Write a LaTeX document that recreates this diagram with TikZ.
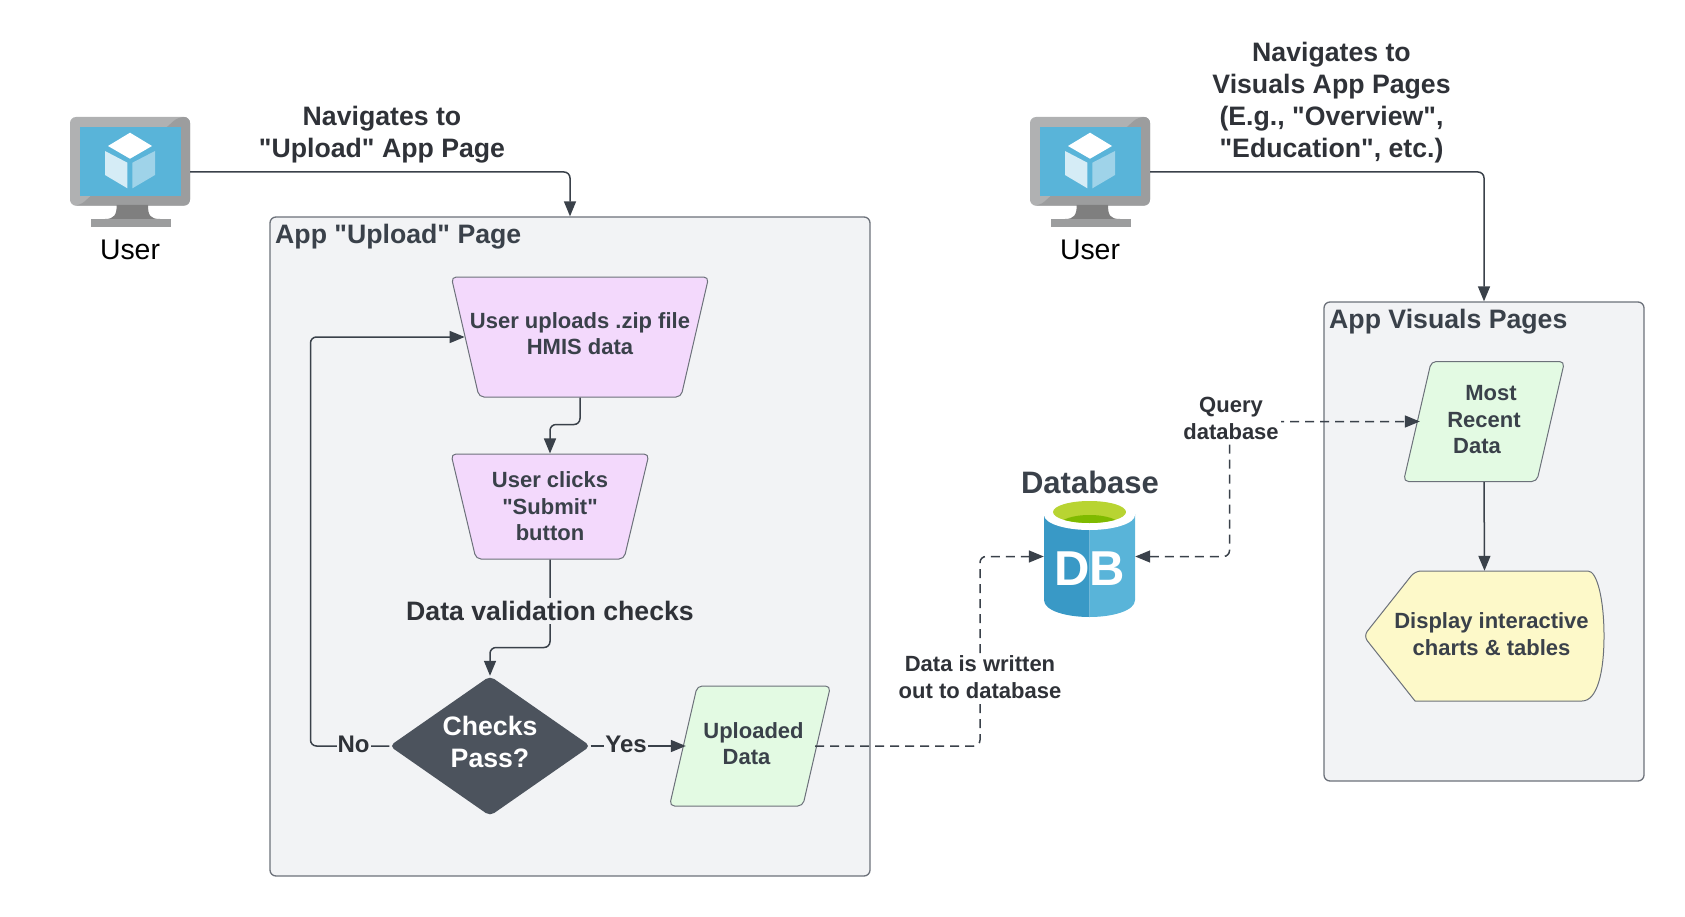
\documentclass[tikz,border=0pt]{standalone}
\usepackage{fontspec}
\setmainfont[Ligatures=TeXOff]{Liberation Sans}
\usetikzlibrary{shapes,shapes.geometric}
\usetikzlibrary{arrows.meta}
\usetikzlibrary{positioning}
\definecolor{inkgrey}{HTML}{3A414A}
\definecolor{darktext}{HTML}{2F3238}
\definecolor{panelgrey}{HTML}{F2F3F5}
\definecolor{panelline}{HTML}{6C717A}
\definecolor{purplebox}{HTML}{F3D9FC}
\definecolor{greenbox}{HTML}{E3FAE3}
\definecolor{yellowbox}{HTML}{FDF9C9}
\definecolor{darkbox}{HTML}{4C535D}
\definecolor{azure}{HTML}{59B4D9}
\definecolor{azuredark}{HTML}{3999C6}
\definecolor{limerim}{HTML}{B8D432}
\definecolor{limedeep}{HTML}{7FBA00}
\definecolor{monitorlight}{HTML}{B0B1B2}
\definecolor{monitordark}{HTML}{9C9D9E}
\definecolor{monitorstand}{HTML}{7F7F7F}
\begin{document}
\begin{tikzpicture}[x=1pt,y=-1pt]
\tikzset{
  panel/.style={rectangle,draw=panelline,fill=panelgrey,line width=1.3pt,rounded corners=6pt,inner sep=0pt},
  paneltitle/.style={anchor=west,inner sep=0pt,text=inkgrey,font=\bfseries\fontsize{26.67}{32}\selectfont},
  heading/.style={inner sep=0pt,align=center,text=darktext,font=\bfseries\fontsize{26.67}{32}\selectfont},
  smalltext/.style={inner sep=2pt,align=center,text=inkgrey,font=\bfseries\fontsize{22}{26.5}\selectfont},
  widebox/.style={trapezium,shape border rotate=180,draw=panelline,fill=purplebox,line width=1pt,rounded corners=5pt},
  slantbox/.style={trapezium,trapezium left angle=77,trapezium right angle=103,inner xsep=52.8pt,inner ysep=60pt,draw=panelline,fill=greenbox,line width=1pt,rounded corners=5pt},
  flow/.style={draw=inkgrey,line width=1.5pt,rounded corners=6pt,-{Triangle[length=15pt,width=12pt]}},
  dashflow/.style={flow,dash pattern=on 9pt off 6pt},
  monitor/.pic={
    \fill[monitorlight,rounded corners=6pt] (0,0) rectangle (120,88.6);
    \fill[monitordark,rounded corners=6pt] (0,88.6) -- (120,88.6) -- (120,0) -- (108,0) -- (10,88.6) -- cycle;
    \fill[monitorstand] (46.7,88) .. controls (46.7,98) and (44,102) .. (35,102) -- (90,102) .. controls (80,102) and (78,98) .. (78,88) -- cycle;
    \fill[monitordark] (21,102) rectangle (101,110);
    \fill[azure] (10,10) rectangle (110.5,79);
    \fill[white] (60,15.7) -- (82,29) -- (60,41.7) -- (38,29) -- cycle;
    \fill[white!75!azure] (35,34) -- (57.4,45.7) -- (57.4,71.3) -- (35,58) -- cycle;
    \fill[white!42!azure] (85,34) -- (62.4,45.7) -- (62.4,71.3) -- (85,58) -- cycle;
    \coordinate (-out) at (120,55);
  }
}
\useasboundingbox (0,0) rectangle (1685,917);
\node[panel,minimum width=600pt,minimum height=659pt](uploadpage) at (570,546.5){};
\node[panel,minimum width=320pt,minimum height=479pt](visualpage) at (1484,541.5){};
\node[paneltitle](uploadtitle) at (275,237){App "Upload" Page};
\node[paneltitle](visualtitle) at (1329,322){App Visuals Pages};
\pic (usera) at (70,117) {monitor};
\pic (userb) at (1030,117) {monitor};
\node[inner sep=0pt,font=\fontsize{28.4}{32}\selectfont](userlabela) at (130,250){User};
\node[inner sep=0pt,font=\fontsize{28.4}{32}\selectfont](userlabelb) at (1090,250){User};
\node[heading](navupload) at (382,135){Navigates to\\"Upload" App Page};
\node[heading](navvisual) at (1331.5,103){Navigates to\\Visuals App Pages\\(E.g., "Overview",\\"Education", etc.)};
\node[widebox,trapezium angle=77,inner xsep=101pt,inner ysep=60pt](uploadfile) at (580,337){};
\node[smalltext](uploadfiletext) at (580,333.5){User uploads .zip file\\HMIS data};
\node[widebox,trapezium angle=76.6,inner xsep=74pt,inner ysep=52.5pt](submit) at (550,506.5){};
\node[smalltext](submittext) at (550,506.5){User clicks\\"Submit"\\button};
\node[diamond,aspect=1.43,minimum width=201pt,minimum height=140pt,fill=darkbox,rounded corners=5pt,inner sep=0pt](checks) at (490,746){};
\node[heading,text=white](checkstext) at (490,742){Checks\\Pass?};
\node[slantbox](uploaded) at (750,746){};
\node[smalltext](uploadedtext) at (750,743.5){\hspace*{7pt}Uploaded\\Data\hspace*{7pt}};
\node[slantbox](mostrecent) at (1484,421.5){};
\node[smalltext](mostrecenttext) at (1484,420){\hspace*{14pt}Most\\Recent\\Data\hspace*{14pt}};
\draw[draw=panelline,fill=yellowbox,line width=1pt,rounded corners=6pt] (1415,701) -- (1363.5,636) -- (1415,571) -- (1582,571) [rounded corners=0pt] .. controls (1597,571) and (1604,599) .. (1604,636) .. controls (1604,673) and (1597,701) .. (1582,701) -- cycle;
\node[smalltext,minimum width=238pt,minimum height=126pt](display) at (1484.5,634){\hspace*{14pt}Display interactive\\\hspace*{14pt}charts \& tables};
\fill[azuredark] (1044,514) -- (1089.5,514) -- (1089.5,617) .. controls (1067,617) and (1044,611) .. (1044,600) -- cycle;
\fill[azure] (1135,514) -- (1089.5,514) -- (1089.5,617) .. controls (1112,617) and (1135,611) .. (1135,600) -- cycle;
\fill[white] (1089.5,515) ellipse [x radius=45.5,y radius=15];
\begin{scope}
\clip (1089.5,512) ellipse [x radius=36.5,y radius=11];
\fill[limerim] (1053,501) rectangle (1126,523);
\fill[limedeep] (1089.5,525) ellipse [x radius=30,y radius=10];
\end{scope}
\node[inner sep=0pt,minimum width=91pt,minimum height=112pt](dbicon) at (1089.5,556.5){};
\node[inner sep=0pt,text=white,font=\bfseries\fontsize{49}{49}\selectfont](dbtext) at (1089.5,568.5){DB};
\node[heading,text=inkgrey,font=\bfseries\fontsize{31}{36}\selectfont](dbtitle) at (1090,482){Database};
\coordinate (loopbend) at (310.5,746);
\coordinate (writebend) at (980,746);
\coordinate (querybend) at (1229.5,421.5);
\draw[flow](usera-out) -| (uploadpage.north);
\draw[flow](userb-out) -| (visualpage.north);
\draw[flow](uploadfile.south) -- ++(0,27) -| (submit.north);
\draw[flow](submit.south) -- ++(0,88) -| (checks.north);
\draw[flow](checks.west) -- (loopbend) |- (uploadfile.west);
\draw[flow,shorten >=-3pt](checks.east) -- (uploaded.left side);
\draw[flow](mostrecent.south) -- (display.north);
\draw[dashflow,shorten <=-2pt](uploaded.right side) -- (writebend) |- (dbicon.west);
\draw[dashflow,shorten >=-3pt,{Triangle[length=15pt,width=12pt]}-{Triangle[length=15pt,width=12pt]}](dbicon.east) -| (querybend) -- (mostrecent.left side);
\node[heading,fill=panelgrey,inner sep=3pt](validation) at (550,611){Data validation checks};
\node[smalltext,fill=panelgrey,inner sep=1pt,text=darktext,font=\bfseries\fontsize{24}{28}\selectfont](nolabel) at (353.5,744){No};
\node[smalltext,fill=panelgrey,inner sep=1pt,text=darktext,font=\bfseries\fontsize{24}{28}\selectfont](yeslabel) at (626,744){Yes};
\node[smalltext,fill=white,text=darktext](writelabel) at (980,677){Data is written\\out to database};
\node[smalltext,fill=white,text=darktext](querylabel) at (1231,418.5){Query\\database};
\end{tikzpicture}
\end{document}
